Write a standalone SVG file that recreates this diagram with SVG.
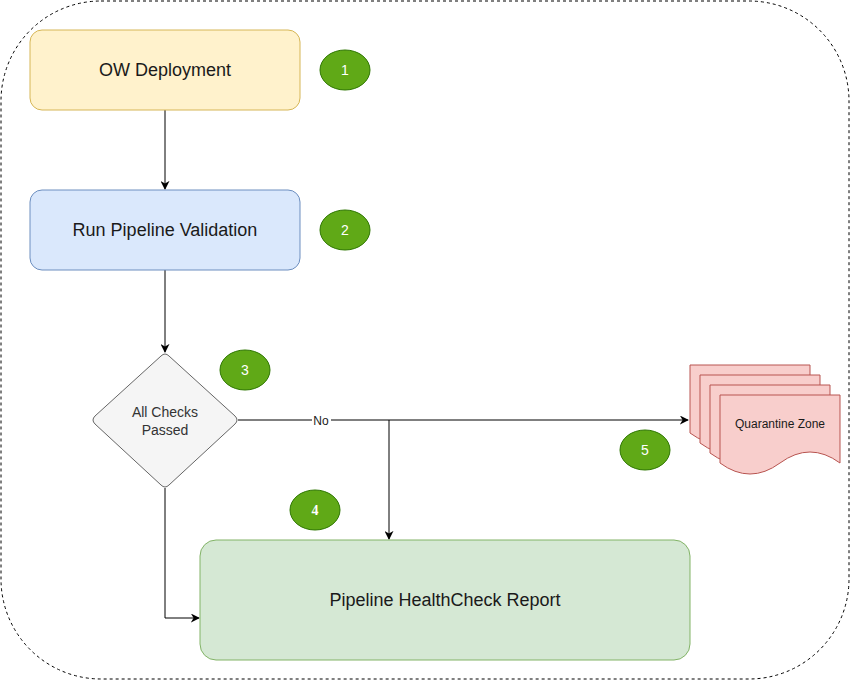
<svg xmlns="http://www.w3.org/2000/svg" width="851" height="681" viewBox="0 0 851 681">
<defs>
<style>
.lbl{font-family:"Liberation Sans",Arial,sans-serif;fill:#1a1a1a;text-anchor:middle;dominant-baseline:central}
.num{font-family:"Liberation Sans",Arial,sans-serif;fill:#ffffff;font-size:14px;text-anchor:middle;dominant-baseline:central}
.badge{fill:#60a917;stroke:#2d7600;stroke-width:1}
.edge{fill:none;stroke:#000;stroke-width:1}
.page{fill:#f8cecc;stroke:#b85450;stroke-width:1}
</style>
<marker id="arr" viewBox="0 0 10 10" refX="9" refY="5" markerWidth="9" markerHeight="9" markerUnits="userSpaceOnUse" orient="auto">
<path d="M0,0 L10,5 L0,10 L3,5 Z" fill="#000"/>
</marker>
<path id="doc" d="M0,0 H120 V68 Q90,46 60,68 Q30,90 0,68 Z"/>
</defs>
<rect x="1" y="1" width="848" height="678" rx="100" ry="100" fill="#fff" stroke="#000" stroke-dasharray="3 3"/>
<g id="connectors">
<line class="edge" x1="165" y1="110" x2="165" y2="189" marker-end="url(#arr)"/>
<line class="edge" x1="165" y1="270" x2="165" y2="352" marker-end="url(#arr)"/>
<line class="edge" x1="238" y1="420" x2="688" y2="420" marker-end="url(#arr)"/>
<line class="edge" x1="389" y1="420" x2="389" y2="539" marker-end="url(#arr)"/>
<polyline class="edge" points="165,488 165,618 199,618" marker-end="url(#arr)"/>
<rect x="312" y="413" width="19" height="15" fill="#fff"/>
<text class="lbl" x="321" y="421" font-size="12">No</text>
</g>
<g id="ow-deployment">
<rect x="30" y="30" width="270" height="80" rx="12" fill="#fff2cc" stroke="#d6b656"/>
<text class="lbl" x="165" y="70" font-size="18">OW Deployment</text>
</g>
<g id="run-pipeline-validation">
<rect x="30" y="190" width="270" height="80" rx="12" fill="#dae8fc" stroke="#6c8ebf"/>
<text class="lbl" x="165" y="230" font-size="18">Run Pipeline Validation</text>
</g>
<g id="all-checks-passed">
<path d="M161,356 Q165,352 169,356 L235,416 Q239,420 235,424 L169,485 Q165,489 161,485 L95,424 Q91,420 95,416 Z" fill="#f5f5f5" stroke="#666666"/>
<text class="lbl" x="165" y="412" font-size="14" style="fill:#333">All Checks</text>
<text class="lbl" x="165" y="430" font-size="14" style="fill:#333">Passed</text>
</g>
<g id="healthcheck-report">
<rect x="200" y="540" width="490" height="120" rx="16" fill="#d5e8d4" stroke="#82b366"/>
<text class="lbl" x="445" y="600" font-size="18">Pipeline HealthCheck Report</text>
</g>
<g id="quarantine-zone">
<use href="#doc" class="page" x="690" y="365"/>
<use href="#doc" class="page" x="700" y="375"/>
<use href="#doc" class="page" x="710" y="385"/>
<use href="#doc" class="page" x="720" y="395"/>
<text class="lbl" x="780" y="424" font-size="12">Quarantine Zone</text>
</g>
<g id="badge-1"><ellipse class="badge" cx="345" cy="70" rx="25" ry="20"/><text class="num" x="345" y="70">1</text></g>
<g id="badge-2"><ellipse class="badge" cx="345" cy="230" rx="25" ry="20"/><text class="num" x="345" y="230">2</text></g>
<g id="badge-3"><ellipse class="badge" cx="245" cy="370" rx="25" ry="20"/><text class="num" x="245" y="370">3</text></g>
<g id="badge-4"><ellipse class="badge" cx="315" cy="510" rx="25" ry="20"/><text class="num" x="315" y="510" style="font-family:'Liberation Serif',serif;font-weight:bold">4</text></g>
<g id="badge-5"><ellipse class="badge" cx="645" cy="450" rx="25" ry="20"/><text class="num" x="645" y="450">5</text></g>
</svg>
